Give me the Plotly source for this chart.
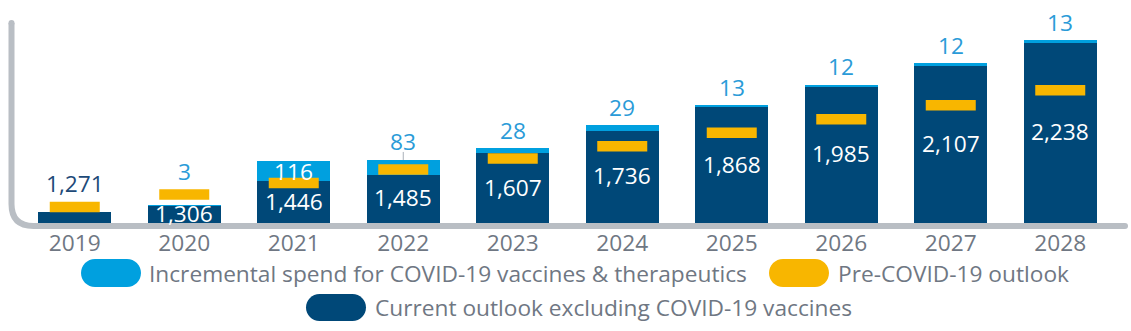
import plotly.graph_objects as go

# ---- data -------------------------------------------------------------
years = ["2019", "2020", "2021", "2022", "2023", "2024", "2025", "2026", "2027", "2028"]
current_outlook = [1271, 1306, 1446, 1485, 1607, 1736, 1868, 1985, 2107, 2238]
incremental_spend = [0, 3, 116, 83, 28, 29, 13, 12, 12, 13]
pre_covid_outlook = [1300, 1371, 1437, 1514, 1577, 1646, 1723, 1800, 1880, 1966]

legend_names = [
    "Incremental spend for COVID-19 vaccines & therapeutics",
    "Pre-COVID-19 outlook",
    "Current outlook excluding COVID-19 vaccines",
]

# ---- style ------------------------------------------------------------
NAVY = "#004878"
LIGHT = "#00a0df"
YELLOW = "#f8b600"
AXIS_GREY = "#b9bec4"
TEXT_GREY = "#6f7783"
LIGHT_TEXT = "#2a9bd8"
NAVY_TEXT = "#1d4a78"
FONT = "Open Sans"
FS = 22.7

FIG_W, FIG_H = 1131, 331
ML, MR, MT, MB = 20, 16, 10, 108
PW, PH = FIG_W - ML - MR, FIG_H - MT - MB
Y_MIN = 1208
PX_PER_UNIT = 0.1751
Y_MAX = Y_MIN + PH / PX_PER_UNIT
MARK_THICK = 10.5          # pre-COVID marker thickness, px
MARK_LEN = 50              # pre-COVID marker length, px
INSIDE_MIN = 90            # segment size (units) needed to hold its label inside
OUT_SHIFT = 18             # gap of outside labels above the bar, px


def paper(x_px, y_px):
    """Pixel position on the page -> paper coordinates."""
    return (x_px - ML) / PW, (FIG_H - MB - y_px) / PH


def y_paper(v):
    """Data value on the y scale -> paper coordinate."""
    return (v - Y_MIN) / (Y_MAX - Y_MIN)


fig = go.Figure()

fig.add_trace(go.Bar(
    x=years, y=current_outlook, name=legend_names[2],
    marker=dict(color=NAVY, line=dict(width=0)), showlegend=False,
))
fig.add_trace(go.Bar(
    x=years, y=incremental_spend, name=legend_names[0],
    marker=dict(color=LIGHT, line=dict(width=0)), showlegend=False,
))
# line-ew symbols are drawn 1.4x their nominal size
fig.add_trace(go.Scatter(
    x=years, y=pre_covid_outlook, name=legend_names[1], mode="markers",
    marker=dict(symbol="line-ew", size=MARK_LEN / 1.4, color=YELLOW,
                line=dict(color=YELLOW, width=MARK_THICK)),
    showlegend=False,
))

annotations = []
shapes = []
half_mark = (MARK_THICK / 2) / PX_PER_UNIT
n = len(years)


def value_label(i, y, text, color, yshift=0):
    return dict(x=(i + 0.5) / n, y=y_paper(y), xref="paper", yref="paper",
                yshift=yshift, text=text, showarrow=False,
                xanchor="center", yanchor="middle",
                font=dict(color=color, size=FS, family=FONT))


for i, (cur, inc, pre) in enumerate(zip(current_outlook, incremental_spend, pre_covid_outlook)):
    total = cur + inc
    top_ref = max(total, pre + half_mark)
    # value of the current outlook
    if cur - Y_MIN >= INSIDE_MIN:
        annotations.append(value_label(i, (Y_MIN + cur) / 2, f"{cur:,}", "white", 1))
    else:
        annotations.append(value_label(i, top_ref, f"{cur:,}", NAVY_TEXT, OUT_SHIFT))
    # incremental COVID-19 spend
    if inc > 0:
        if inc >= INSIDE_MIN:
            annotations.append(value_label(i, cur + inc / 2, f"{inc:,}", "white"))
        else:
            annotations.append(value_label(i, top_ref, f"{inc:,}", LIGHT_TEXT, OUT_SHIFT))
            if inc > 50:
                xc = (i + 0.5) / n
                shapes.append(dict(type="line", xref="paper", yref="paper", x0=xc, x1=xc,
                                   y0=y_paper(total), y1=y_paper(total + 8 / PX_PER_UNIT),
                                   line=dict(color="#a9b0b8", width=1)))

# L-shaped axis with a rounded corner
vx, top_y, hy, right_x, r = 11.5, 23, 226, 1125, 22
pts = [
    ("M", [(vx, top_y)]),
    ("L", [(vx, hy - r)]),
    ("Q", [(vx, hy), (vx + r, hy)]),
    ("L", [(right_x, hy)]),
]
path = ""
for cmd, ps in pts:
    path += cmd + " ".join(f"{paper(*p)[0]:.5f},{paper(*p)[1]:.5f}" for p in ps) + " "
shapes.append(dict(type="path", xref="paper", yref="paper", path=path.strip(),
                   line=dict(color=AXIS_GREY, width=6), layer="below"))
for cx, cy in [(vx, top_y), (right_x, hy)]:
    px0, py0 = paper(cx - 3, cy + 3)
    px1, py1 = paper(cx + 3, cy - 3)
    shapes.append(dict(type="circle", xref="paper", yref="paper", x0=px0, y0=py0,
                       x1=px1, y1=py1, fillcolor=AXIS_GREY, line=dict(width=0), layer="below"))


def pill(x0, y0, x1, y1):
    """Rounded-end box path in pixel units, converted to paper."""
    rr = (y1 - y0) / 2
    k = 0.5523 * rr
    cy = (y0 + y1) / 2
    seq = [
        ("M", [(x0 + rr, y0)]),
        ("L", [(x1 - rr, y0)]),
        ("C", [(x1 - rr + k, y0), (x1, cy - k), (x1, cy)]),
        ("C", [(x1, cy + k), (x1 - rr + k, y1), (x1 - rr, y1)]),
        ("L", [(x0 + rr, y1)]),
        ("C", [(x0 + rr - k, y1), (x0, cy + k), (x0, cy)]),
        ("C", [(x0, cy - k), (x0 + rr - k, y0), (x0 + rr, y0)]),
    ]
    s = ""
    for cmd, ps in seq:
        s += cmd + " ".join(f"{paper(*p)[0]:.5f},{paper(*p)[1]:.5f}" for p in ps) + " "
    return s + "Z"


legend_items = [
    (LIGHT, (81, 259, 141, 287), legend_names[0], 147, 273),
    (YELLOW, (769, 259, 829, 287), legend_names[1], 836, 273),
    (NAVY, (306, 294, 366, 321), legend_names[2], 373, 307),
]
for color, box, label, tx, ty in legend_items:
    shapes.append(dict(type="path", xref="paper", yref="paper", path=pill(*box),
                       fillcolor=color, line=dict(width=0)))
    ax, ay = paper(tx, ty)
    annotations.append(dict(xref="paper", yref="paper", x=ax, y=ay, xanchor="left",
                            yanchor="middle", text=label, showarrow=False,
                            font=dict(color=TEXT_GREY, size=FS, family=FONT)))

fig.update_layout(
    width=FIG_W, height=FIG_H,
    margin=dict(l=ML, r=MR, t=MT, b=MB),
    barmode="stack", bargap=0.334,
    plot_bgcolor="white", paper_bgcolor="white",
    showlegend=False,
    xaxis=dict(type="category", range=[-0.5, n - 0.5], showline=False, showgrid=False,
               zeroline=False, ticks="", ticklabelstandoff=4,
               tickfont=dict(color=TEXT_GREY, size=FS, family=FONT)),
    yaxis=dict(range=[Y_MIN, Y_MAX], visible=False),
    annotations=annotations,
    shapes=shapes,
)

fig.write_html("out.html")
